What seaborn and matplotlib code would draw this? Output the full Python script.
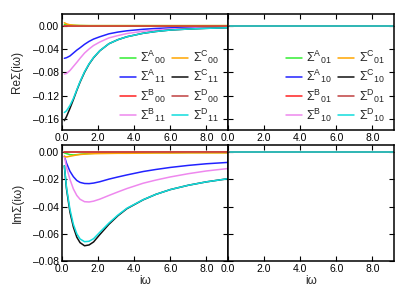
import numpy as np
import pandas as pd
import seaborn as sns
import matplotlib
matplotlib.use("Agg")
import matplotlib.pyplot as plt

iw = [0.13, 0.25, 0.44, 0.63, 0.82, 1.0, 1.25, 1.5, 1.75, 2.1,
      2.6, 3.1, 3.6, 4.5, 5.2, 6.0, 7.0, 8.0, 9.2]

# real part, diagonal components
re_A00 = [0.002, 0.0015, 0.001, 0.0006, 0.0004, 0.0002, 0.0001, 0, 0, 0,
          0, 0, 0, 0, 0, 0, 0, 0, 0]
re_A11 = [-0.056, -0.055, -0.052, -0.047, -0.042, -0.038, -0.032, -0.027, -0.023, -0.019,
          -0.014, -0.011, -0.0088, -0.0062, -0.0048, -0.0037, -0.0028, -0.0022, -0.0017]
re_B00 = [0.0] * 19
re_B11 = [-0.083, -0.082, -0.077, -0.070, -0.063, -0.056, -0.047, -0.040, -0.034, -0.028,
          -0.021, -0.017, -0.0135, -0.0095, -0.0075, -0.0058, -0.0045, -0.0036, -0.0028]
re_C00 = [0.005, 0.003, 0.0015, 0.0008, 0.0004, 0.0002, 0.0001, 0, 0, 0,
          0, 0, 0, 0, 0, 0, 0, 0, 0]
re_C11 = [-0.163, -0.156, -0.142, -0.127, -0.111, -0.097, -0.080, -0.066, -0.055, -0.043,
          -0.031, -0.024, -0.019, -0.013, -0.010, -0.0075, -0.0058, -0.0046, -0.0036]
re_D00 = [0.0] * 19
re_D11 = [-0.149, -0.146, -0.137, -0.125, -0.110, -0.096, -0.079, -0.0655, -0.0545, -0.0428,
          -0.031, -0.024, -0.019, -0.013, -0.010, -0.0075, -0.0058, -0.0046, -0.0036]

# imaginary part, diagonal components
im_A00 = [-0.0005, -0.001, -0.0018, -0.002, -0.0018, -0.0015, -0.0012, -0.001, -0.0008, -0.0006,
          -0.0005, -0.0004, -0.0004, -0.0003, -0.0003, -0.0003, -0.0002, -0.0002, -0.0002]
im_A11 = [-0.003, -0.008, -0.014, -0.018, -0.0208, -0.0222, -0.023, -0.0231, -0.0227, -0.0217,
          -0.0198, -0.0182, -0.0167, -0.0142, -0.0127, -0.0112, -0.0097, -0.0085, -0.0075]
im_B00 = [0.0] * 19
im_B11 = [-0.003, -0.011, -0.020, -0.027, -0.0318, -0.0346, -0.0364, -0.0366, -0.0360, -0.0345,
          -0.0318, -0.0292, -0.0267, -0.0228, -0.0205, -0.0182, -0.0158, -0.0138, -0.012]
im_C00 = [-0.003, -0.0035, -0.003, -0.0025, -0.002, -0.0017, -0.0014, -0.0012, -0.0011, -0.001,
          -0.0009, -0.0008, -0.0008, -0.0007, -0.0006, -0.0006, -0.0005, -0.0005, -0.0005]
im_C11 = [-0.010, -0.027, -0.044, -0.055, -0.0625, -0.0665, -0.0688, -0.0682, -0.0660, -0.0605,
          -0.0530, -0.0467, -0.0415, -0.0350, -0.0310, -0.0275, -0.0243, -0.0218, -0.0195]
im_D00 = [0.0] * 19
im_D11 = [-0.010, -0.026, -0.042, -0.053, -0.0600, -0.0638, -0.0658, -0.0655, -0.0636, -0.0588,
          -0.0521, -0.0462, -0.0412, -0.0349, -0.0310, -0.0275, -0.0243, -0.0218, -0.0195]

# off-diagonal components are zero everywhere
zeros = [0.0] * 19

diag = ["A00", "A11", "B00", "B11", "C00", "C11", "D00", "D11"]
offd = ["A01", "A10", "B01", "B10", "C01", "C10", "D01", "D10"]
colors = ["#33ee33", "#2222ff", "#ff2222", "#ee88ee",
          "#ffa500", "#111111", "#c04040", "#11dddd"]

re_diag = [re_A00, re_A11, re_B00, re_B11, re_C00, re_C11, re_D00, re_D11]
im_diag = [im_A00, im_A11, im_B00, im_B11, im_C00, im_C11, im_D00, im_D11]


def label(key):
    return r"$\mathregular{\Sigma^{%s}{}_{%s}}$" % (key[0], key[1:])


def long_df(keys, values):
    rows = []
    for k, v in zip(keys, values):
        for x, y in zip(iw, v):
            rows.append({"iw": x, "val": y, "series": label(k)})
    return pd.DataFrame(rows)


sns.set_theme(style="ticks")
plt.rcParams["font.family"] = ["Liberation Sans", "DejaVu Sans"]
plt.rcParams["mathtext.fontset"] = "custom"
plt.rcParams["mathtext.rm"] = "Liberation Sans"
plt.rcParams["mathtext.it"] = "Liberation Sans:italic"
plt.rcParams["axes.unicode_minus"] = False

fig = plt.figure(figsize=(4.15, 2.91), dpi=100)
W, H = 415, 291


def add_ax(x0, x1, y0, y1):
    return fig.add_axes([x0 / W, 1 - y1 / H, (x1 - x0) / W, (y1 - y0) / H])


ax_re_d = add_ax(62, 228, 14, 130)
ax_re_o = add_ax(228, 394, 14, 130)
ax_im_d = add_ax(62, 228, 145, 261)
ax_im_o = add_ax(228, 394, 145, 261)

panels = [
    (ax_re_d, diag, re_diag, True),
    (ax_re_o, offd, [zeros] * 8, True),
    (ax_im_d, diag, im_diag, False),
    (ax_im_o, offd, [zeros] * 8, False),
]

for ax, keys, vals, legend in panels:
    df = long_df(keys, vals)
    order = [label(k) for k in keys]
    sns.lineplot(data=df, x="iw", y="val", hue="series", hue_order=order,
                 palette=dict(zip(order, colors)), linewidth=1.1,
                 legend=legend, ax=ax)
    ax.set_xlim(0, 9.2)
    ax.set_xticks([0, 2, 4, 6, 8])
    ax.set_xticklabels(["0.0", "2.0", "4.0", "6.0", "8.0"])
    ax.tick_params(direction="in", top=True, right=True, length=3.5,
                   width=0.8, labelsize=7.5, pad=2, colors="black")
    for s in ax.spines.values():
        s.set_linewidth(1.1)
        s.set_color("black")
    ax.set_xlabel("")
    ax.set_ylabel("")
    if legend:
        ax.legend(ncol=2, loc="lower right", frameon=False, fontsize=9,
                  handlelength=1.3, handletextpad=0.35, columnspacing=0.5,
                  labelspacing=0.15, borderaxespad=0.0,
                  bbox_to_anchor=(0.975, 0.01))

for ax in (ax_re_d, ax_re_o):
    ax.set_ylim(-0.179, 0.02)
    ax.set_yticks([0.0, -0.04, -0.08, -0.12, -0.16])
for ax in (ax_im_d, ax_im_o):
    ax.set_ylim(-0.08, 0.0053)
    ax.set_yticks([0.0, -0.02, -0.04, -0.06, -0.08])

ax_re_d.set_yticklabels(["0.00", "\u20130.04", "\u20130.08", "\u20130.12", "\u20130.16"])
ax_im_d.set_yticklabels(["0.00", "\u20130.02", "\u20130.04", "\u20130.06", "\u20130.08"])
ax_re_o.set_yticklabels([])
ax_im_o.set_yticklabels([])

ax_re_d.set_ylabel("Re\u03a3(i\u03c9)", fontsize=8.5, labelpad=7)
ax_im_d.set_ylabel("Im\u03a3(i\u03c9)", fontsize=8.5, labelpad=7)
ax_im_d.set_xlabel("i\u03c9", fontsize=8.5, labelpad=1)
ax_im_o.set_xlabel("i\u03c9", fontsize=8.5, labelpad=1)

fig.savefig("out.png", dpi=100)
